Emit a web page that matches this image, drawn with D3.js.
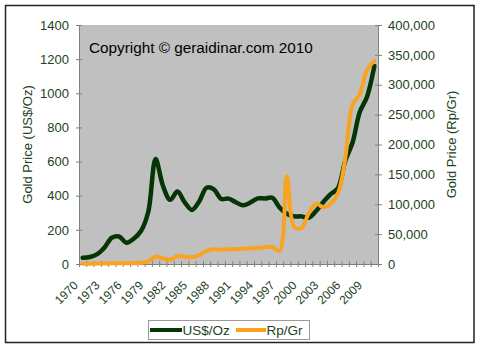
<!DOCTYPE html>
<html><head><meta charset="utf-8">
<script src="https://cdn.jsdelivr.net/npm/d3@7"></script>
<style>
html,body{margin:0;padding:0;background:#fff;}
svg{display:block;font-family:Arial,"Liberation Sans",sans-serif;}
</style></head>
<body>
<svg id="c" width="480" height="349"></svg>
<script>
const years = d3.range(1970, 2011);
const usdOz = [36,41,58,97,154,161,125,148,193,306,615,460,376,424,361,317,368,447,437,381,383,362,344,360,384,384,388,331,294,279,279,271,310,363,409,444,603,710,890,980,1160];
const rpGr = [400,500,700,900,1200,1300,1100,1300,2200,4500,12300,9500,7000,13400,12300,11200,15000,22500,24500,24000,24500,25000,25500,26000,27000,28000,28500,22000,147000,62000,60000,85000,101000,95000,101000,118000,176000,266000,284000,325000,340000];
const leftTicks = [0,200,400,600,800,1000,1200,1400];
const rightTicks = [0,50000,100000,150000,200000,250000,300000,350000,400000];
const labelYears = d3.range(1970, 2011, 3);
const seriesNames = ["US$/Oz","Rp/Gr"];
const colors = {green:"#053505", orange:"#f9a31e", text:"#223f22"};

const svg = d3.select("#c");
const L=79, R=378, T=25, B=264;

svg.append("rect").attr("x",0).attr("y",0).attr("width",480).attr("height",349).attr("fill","#fff");
svg.append("rect").attr("x",5.5).attr("y",5.5).attr("width",468.5).attr("height",337)
  .attr("fill","#fff").attr("stroke","#222").attr("stroke-width",1.5);

svg.append("rect").attr("x",L).attr("y",T).attr("width",R-L).attr("height",B-T).attr("fill","#c0c0c0");

const x = d3.scaleBand().domain(years).range([L,R]).padding(0);
const xc = d => x(d) + x.bandwidth()/2;
const xIdx = d3.scaleLinear().domain([0, years.length]).range([L,R]);
const yL = d3.scaleLinear().domain([0,1400]).range([B,T]);
const yR = d3.scaleLinear().domain([0,400000]).range([B,T]);

// left axis
const gL = svg.append("g").attr("transform",`translate(${L},0)`)
  .call(d3.axisLeft(yL).tickValues(leftTicks).tickSize(3).tickPadding(7).tickFormat(d3.format("d")));
gL.select(".domain").attr("stroke","#808080");
gL.selectAll(".tick line").attr("stroke","#808080").attr("x1",3).attr("x2",-3);
gL.selectAll(".tick text").attr("fill",colors.text).style("font-size","13px").style("font-family","Arial, 'Liberation Sans', sans-serif");

// right axis
const gR = svg.append("g").attr("transform",`translate(${R},0)`)
  .call(d3.axisRight(yR).tickValues(rightTicks).tickSize(4).tickPadding(6).tickFormat(d3.format(",")));
gR.select(".domain").attr("stroke","#808080");
gR.selectAll(".tick line").attr("stroke","#808080").attr("x1",-3).attr("x2",4);
gR.selectAll(".tick text").attr("fill",colors.text).style("font-size","13px").style("font-family","Arial, 'Liberation Sans', sans-serif");

// bottom axis (tick marks at category boundaries)
const gB = svg.append("g").attr("transform",`translate(0,${B})`)
  .call(d3.axisBottom(xIdx).tickValues(d3.range(years.length+1)).tickSize(3).tickFormat(""));
gB.select(".domain").attr("stroke","#808080");
gB.selectAll(".tick line").attr("stroke","#808080").attr("y1",-3).attr("y2",3);

svg.append("g").selectAll("text").data(labelYears).join("text")
  .attr("transform", d => `translate(${xc(d)-4},${B+22}) rotate(-45)`)
  .attr("text-anchor","end")
  .attr("fill",colors.text).style("font-size","12px")
  .text(d => d);

// axis titles
svg.append("text").attr("transform",`translate(31.5,${(T+B)/2}) rotate(-90)`)
  .attr("text-anchor","middle").attr("fill",colors.text).style("font-size","13px")
  .text("Gold Price (US$/Oz)");
svg.append("text").attr("transform",`translate(456,${(T+B)/2}) rotate(-90)`)
  .attr("text-anchor","middle").attr("fill",colors.text).style("font-size","13px")
  .text("Gold Price (Rp/Gr)");

// lines
const lineL = d3.line().x((d,i)=>xc(years[i])).y(d=>yL(d)).curve(d3.curveCatmullRom.alpha(0.5));
const lineR = d3.line().x((d,i)=>xc(years[i])).y(d=>yR(d)).curve(d3.curveCatmullRom.alpha(0.5));
svg.append("path").datum(usdOz).attr("d",lineL).attr("fill","none")
  .attr("stroke",colors.green).attr("stroke-width",4.5).attr("stroke-linejoin","round").attr("stroke-linecap","round");
svg.append("path").datum(rpGr).attr("d",lineR).attr("fill","none")
  .attr("stroke",colors.orange).attr("stroke-width",4).attr("stroke-linejoin","round").attr("stroke-linecap","round");

// copyright
svg.append("text").attr("x",89).attr("y",53).attr("fill","#000").style("font-size","15.3px")
  .text("Copyright © geraidinar.com 2010");

// legend
const lg = svg.append("g");
lg.append("rect").attr("x",148.5).attr("y",320.5).attr("width",161).attr("height",19)
  .attr("fill","#fff").attr("stroke","#9a9a9a");
const legItems = [
  {name:seriesNames[0], color:colors.green, x1:150, x2:182, tx:182.5},
  {name:seriesNames[1], color:colors.orange, x1:236, x2:266, tx:266.5}
];
legItems.forEach(it=>{
  lg.append("line").attr("x1",it.x1).attr("x2",it.x2).attr("y1",330).attr("y2",330)
    .attr("stroke",it.color).attr("stroke-width",4);
  lg.append("text").attr("x",it.tx).attr("y",335).attr("fill",colors.text)
    .style("font-size","13.5px").text(it.name);
});
</script>
</body></html>
